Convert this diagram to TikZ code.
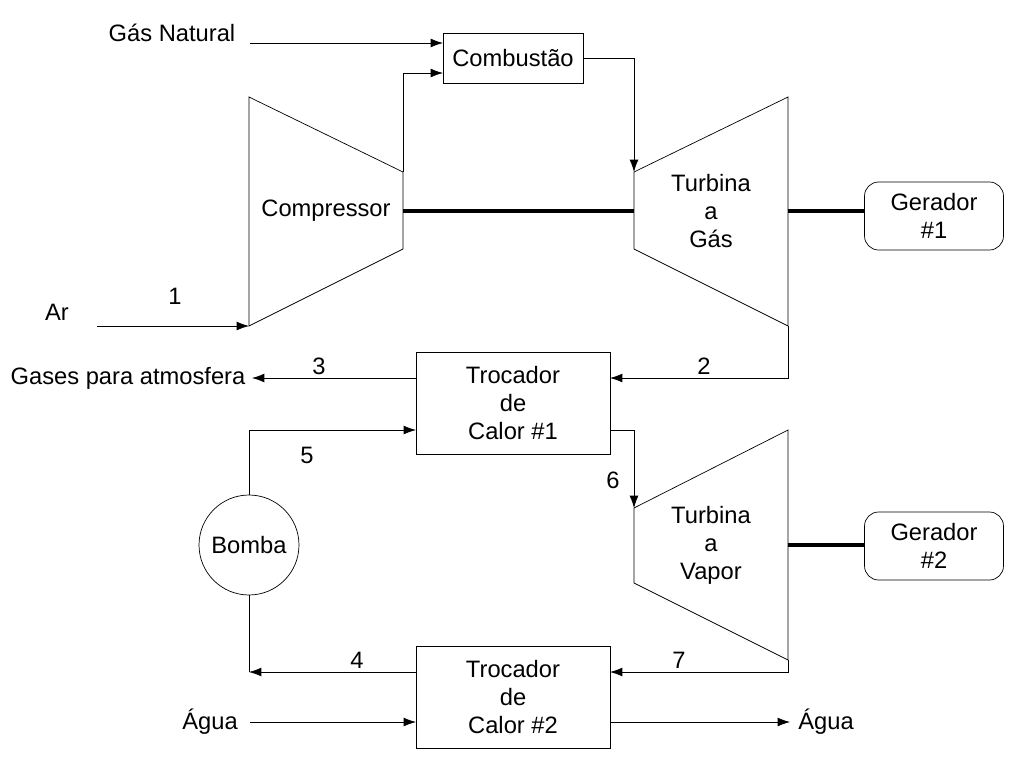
\documentclass[tikz,border=0pt]{standalone}
\usepackage{fontspec}
\setmainfont{Liberation Sans}
\usetikzlibrary{arrows.meta}

\begin{document}
\begin{tikzpicture}[x=0.02cm, y=-0.02cm, >={Latex[length=7pt,width=5pt]},
    font=\fontsize{13.5}{16}\selectfont,
    box/.style={draw, minimum width=3.88cm, minimum height=2.04cm, align=center},
    gen/.style={draw, rounded corners=8pt, minimum width=2.78cm, minimum height=1.36cm, align=center},
    shaft/.style={line width=2.5pt},
    flow/.style={->}]

    \useasboundingbox (0,0) rectangle (1024,768);

    % Gas cycle
    \node[draw, minimum width=2.8cm, minimum height=1cm] (comb) at (513,58) {Combustão};
    \draw (249,97) -- (403,172) -- (403,249) -- (249,326) -- cycle;
    \node (comp) at (326,211) {Compressor};
    \draw (634,172) -- (788,97) -- (788,326) -- (634,249) -- cycle;
    \node[align=center] (tgas) at (711,211) {Turbina\\a\\Gás};
    \node[gen] (ger1) at (934,216) {Gerador\\\#1};
    \draw[shaft] (403,211) -- (634,211);
    \draw[shaft] (788,211) -- (ger1.west |- 0,211);

    \node (gn) at (172,33) {Gás Natural};
    \draw[flow] (250,43) -- (443,43);
    \draw[flow] (403,172) -- (403,73) -- (443,73);
    \draw[flow] (583,58) -- (634,58) -- (634,172);
    \node (ar) at (57,312) {Ar};
    \draw[flow] (97,326) -- (249,326);
    \node at (175,296) {1};

    % Heat exchanger 1
    \node[box] (hx1) at (513,403) {Trocador\\de\\Calor \#1};
    \draw[flow] (788,326) -- (788,378) -- (610,378);
    \node at (704,366) {2};
    \node (atm) at (128,378) {Gases para atmosfera};
    \draw[flow] (416,378) -- (252,378);
    \node at (319,366) {3};

    % Steam cycle
    \node[draw, circle, minimum size=2cm] (bomba) at (249,545) {Bomba};
    \draw[flow] (bomba.north) -- (249,430) -- (416,430);
    \node at (307,455) {5};
    \draw[flow] (610,430) -- (634,430) -- (634,508);
    \node at (613,480) {6};
    \draw (634,508) -- (788,430) -- (788,660) -- (634,583) -- cycle;
    \node[align=center] (tvap) at (711,545) {Turbina\\a\\Vapor};
    \node[gen] (ger2) at (934,546) {Gerador\\\#2};
    \draw[shaft] (788,545) -- (ger2.west |- 0,545);

    % Heat exchanger 2
    \node[box] (hx2) at (513,697) {Trocador\\de\\Calor \#2};
    \draw[flow] (788,660) -- (788,672) -- (610,672);
    \node at (679,660) {7};
    \draw[flow] (416,672) -- (249,672);
    \draw (249,672) -- (bomba.south);
    \node at (357,660) {4};
    \node (aguain) at (210,722) {Água};
    \draw[flow] (250,722) -- (416,722);
    \draw[flow] (610,722) -- (790,722);
    \node (aguaout) at (826,722) {Água};
\end{tikzpicture}
\end{document}
